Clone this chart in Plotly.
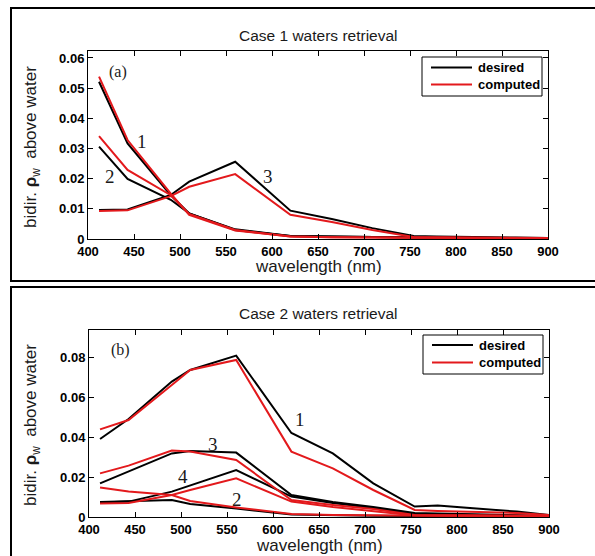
import plotly.graph_objects as go

# Band centres (nm)
wavelength = [412, 443, 490, 510, 560, 620, 665, 709, 754, 779, 865, 900]

# Case 1 waters: desired vs computed reflectance
c1_desired_1 = [0.0521, 0.0317, 0.0145, 0.0085, 0.0030, 0.0010, 0.0008, 0.0006, 0.0004, 0.0004, 0.0003, 0.0002]
c1_computed_1 = [0.0538, 0.0328, 0.0150, 0.0080, 0.0028, 0.0008, 0.0006, 0.0005, 0.0003, 0.0003, 0.0002, 0.0002]
c1_desired_2 = [0.0306, 0.0199, 0.0130, 0.0085, 0.0032, 0.0010, 0.0008, 0.0006, 0.0004, 0.0004, 0.0003, 0.0002]
c1_computed_2 = [0.0341, 0.0229, 0.0145, 0.0083, 0.0030, 0.0008, 0.0006, 0.0005, 0.0003, 0.0003, 0.0002, 0.0002]
c1_desired_3 = [0.0096, 0.0098, 0.0146, 0.0190, 0.0256, 0.0094, 0.0066, 0.0036, 0.0010, 0.0008, 0.0005, 0.0003]
c1_computed_3 = [0.0093, 0.0095, 0.0142, 0.0173, 0.0215, 0.0080, 0.0056, 0.0030, 0.0007, 0.0006, 0.0004, 0.0003]

# Case 2 waters: desired vs computed reflectance
c2_desired_1 = [0.0390, 0.0490, 0.0677, 0.0735, 0.0807, 0.0420, 0.0318, 0.0168, 0.0052, 0.0057, 0.0027, 0.0010]
c2_computed_1 = [0.0438, 0.0485, 0.0660, 0.0735, 0.0785, 0.0327, 0.0243, 0.0135, 0.0035, 0.0030, 0.0020, 0.0010]
c2_desired_2 = [0.0075, 0.0080, 0.0085, 0.0065, 0.0043, 0.0012, 0.0008, 0.0006, 0.0005, 0.0005, 0.0004, 0.0003]
c2_computed_2 = [0.0147, 0.0127, 0.0110, 0.0080, 0.0048, 0.0015, 0.0010, 0.0008, 0.0006, 0.0006, 0.0005, 0.0004]
c2_desired_3 = [0.0168, 0.0227, 0.0318, 0.0330, 0.0322, 0.0110, 0.0075, 0.0050, 0.0020, 0.0018, 0.0010, 0.0005]
c2_computed_3 = [0.0218, 0.0257, 0.0332, 0.0328, 0.0285, 0.0085, 0.0060, 0.0040, 0.0010, 0.0010, 0.0007, 0.0004]
c2_desired_4 = [0.0072, 0.0077, 0.0127, 0.0157, 0.0235, 0.0102, 0.0070, 0.0045, 0.0015, 0.0014, 0.0008, 0.0004]
c2_computed_4 = [0.0068, 0.0070, 0.0110, 0.0135, 0.0193, 0.0077, 0.0050, 0.0030, 0.0008, 0.0008, 0.0005, 0.0003]

x_ticks = [400, 450, 500, 550, 600, 650, 700, 750, 800, 850, 900]
y_ticks_top = [0, 0.01, 0.02, 0.03, 0.04, 0.05, 0.06]
y_ticks_bottom = [0, 0.02, 0.04, 0.06, 0.08]
legend_labels = ["desired", "computed"]

BLACK = "#000000"
RED = "#e3191c"
W, H = 595, 556
SANS = "Liberation Sans, Arial"
SERIF = "Liberation Serif, Times New Roman"
TEXT = "#1a1a1a"


def px(x):
    return x / W


def py(y):
    return 1 - y / H


fig = go.Figure()

top_pairs = [(c1_desired_1, c1_computed_1), (c1_desired_2, c1_computed_2), (c1_desired_3, c1_computed_3)]
bottom_pairs = [(c2_desired_1, c2_computed_1), (c2_desired_2, c2_computed_2),
                (c2_desired_3, c2_computed_3), (c2_desired_4, c2_computed_4)]


def add_panel(pairs, xa, ya):
    for d, _ in pairs:
        fig.add_trace(go.Scatter(x=wavelength, y=d, mode="lines", xaxis=xa, yaxis=ya,
                                 line=dict(color=BLACK, width=2), name=legend_labels[0],
                                 showlegend=False, hoverinfo="skip"))
    for _, c in pairs:
        fig.add_trace(go.Scatter(x=wavelength, y=c, mode="lines", xaxis=xa, yaxis=ya,
                                 line=dict(color=RED, width=2), name=legend_labels[1],
                                 showlegend=False, hoverinfo="skip"))


add_panel(top_pairs, "x", "y")
add_panel(bottom_pairs, "x2", "y2")

axis_common = dict(showline=True, linecolor=BLACK, linewidth=1, mirror="ticks",
                   ticks="inside", ticklen=5, tickcolor=BLACK, showgrid=False, zeroline=False,
                   automargin=False,
                   tickfont=dict(family=SANS, size=13, color=BLACK, weight="bold"))


def fmt(v):
    return "0" if v == 0 else f"{v:.2f}"


fig.update_layout(
    template="none",
    width=W, height=H,
    margin=dict(l=0, r=0, t=0, b=0, pad=0, autoexpand=False),
    paper_bgcolor="white", plot_bgcolor="white",
    showlegend=False,
    xaxis=dict(domain=[px(88), px(548)], range=[400, 900], tickvals=x_ticks, anchor="y", **axis_common),
    yaxis=dict(domain=[py(239), py(51)], range=[0, 0.0623], tickvals=y_ticks_top,
               ticktext=[fmt(v) for v in y_ticks_top], anchor="x", **axis_common),
    xaxis2=dict(domain=[px(89), px(549)], range=[400, 900], tickvals=x_ticks, anchor="y2", **axis_common),
    yaxis2=dict(domain=[py(517), py(330)], range=[0, 0.0935], tickvals=y_ticks_bottom,
                ticktext=[fmt(v) for v in y_ticks_bottom], anchor="x2", **axis_common),
)

# Outer frames around each panel
for y0, y1 in [(8, 281), (287, 562)]:
    fig.add_shape(type="rect", xref="paper", yref="paper", x0=px(11), x1=px(605),
                  y0=py(y1), y1=py(y0), line=dict(color=BLACK, width=2), layer="above")

# Legend boxes: (left, top, right, bottom, first-line y, second-line y)
for lx0, ly0, lx1, ly1, yl1, yl2 in [(422, 57, 542, 96, 67.5, 84.5), (423, 335, 543, 374, 345, 362.5)]:
    fig.add_shape(type="rect", xref="paper", yref="paper", x0=px(lx0), x1=px(lx1),
                  y0=py(ly1), y1=py(ly0), line=dict(color=BLACK, width=1), fillcolor="white",
                  layer="above")
    for yy, col, lab in [(yl1, BLACK, legend_labels[0]), (yl2, RED, legend_labels[1])]:
        fig.add_shape(type="line", xref="paper", yref="paper", x0=px(lx0 + 9), x1=px(lx0 + 50),
                      y0=py(yy), y1=py(yy), line=dict(color=col, width=2), layer="above")
        fig.add_annotation(x=px(lx0 + 54), y=py(yy), xref="paper", yref="paper", text=lab,
                           showarrow=False, xanchor="left", yanchor="middle",
                           font=dict(family=SANS, size=13, color=BLACK, weight="bold"))

annotations = [
    dict(x=318, y=35, text="Case 1 waters retrieval", size=15.5, family=SANS),
    dict(x=318, y=313, text="Case 2 waters retrieval", size=15.5, family=SANS),
    dict(x=318, y=266, text="wavelength (nm)", size=17, family=SANS),
    dict(x=319, y=545, text="wavelength (nm)", size=17, family=SANS),
    dict(x=118, y=72, text="(a)", size=16, family=SERIF),
    dict(x=120, y=350, text="(b)", size=16, family=SERIF),
    dict(x=142, y=142, text="1", size=19, family=SERIF),
    dict(x=110, y=176, text="2", size=19, family=SERIF),
    dict(x=268, y=176, text="3", size=19, family=SERIF),
    dict(x=300, y=419, text="1", size=19, family=SERIF),
    dict(x=237, y=499, text="2", size=19, family=SERIF),
    dict(x=213, y=444, text="3", size=19, family=SERIF),
    dict(x=183, y=476, text="4", size=19, family=SERIF),
]
for a in annotations:
    fig.add_annotation(x=px(a["x"]), y=py(a["y"]), xref="paper", yref="paper", text=a["text"],
                       showarrow=False, xanchor="center", yanchor="middle",
                       font=dict(family=a["family"], size=a["size"], color=TEXT))

ylabel = "bidir. <b>ρ</b><sub>w</sub>  above water"
for yc in (147, 425):
    fig.add_annotation(x=px(32), y=py(yc), xref="paper", yref="paper", text=ylabel,
                       showarrow=False, textangle=-90, xanchor="center", yanchor="middle",
                       font=dict(family=SANS, size=17, color=TEXT))

fig.write_html("out.html")
